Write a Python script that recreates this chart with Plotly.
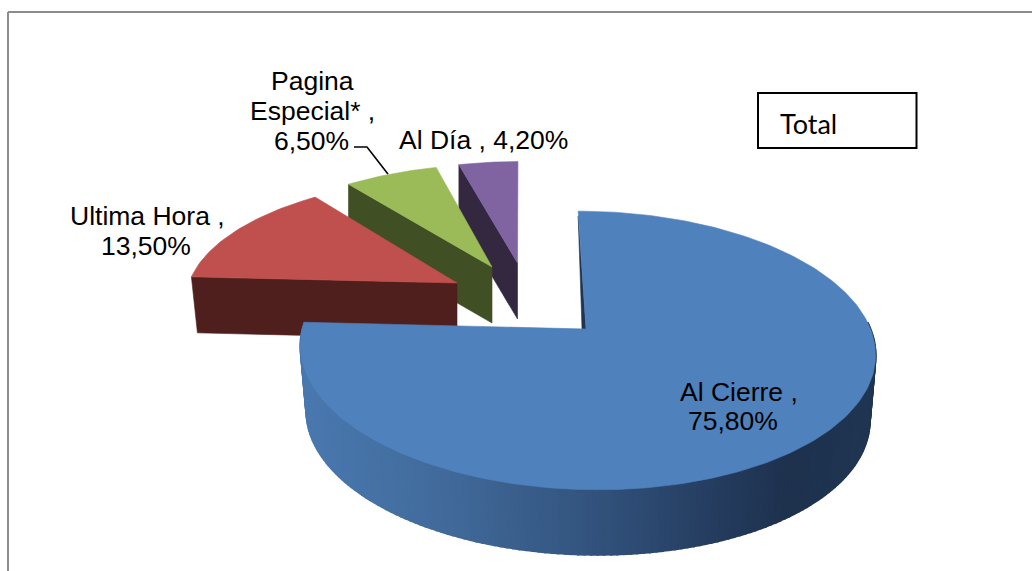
import math
import plotly.graph_objects as go

categories = ["Al Cierre", "Ultima Hora", "Pagina Especial*", "Al Día"]
values = [75.8, 13.5, 6.5, 4.2]
legend_title = "Total"

W, H = 1032, 571
top_colors = ["#4F81BD", "#C0504D", "#9BBB59", "#8064A2"]
wall_colors = [None, "#4F1F1E", "#414F24", "#33283F"]
# projection of each exploded slice: apex, radii, perspective, rim shifts, depth
proj = [
    dict(ax=586, ay=329, a=284, b=136, k=0.154, sh=0.5, e=-9.5, d=65, lean=6),
    dict(ax=457, ay=283, a=289, b=123, k=0.154, sh=21, e=0, d=56, lean=6),
    dict(ax=492, ay=267, a=267, b=118.5, k=0.154, sh=5.5, e=0, d=56, lean=0),
    dict(ax=517.5, ay=263, a=260, b=117, k=0.154, sh=0.5, e=0, d=56, lean=0),
]
grad_stops = [(300, (0x4A, 0x79, 0xB0)), (450, (0x41, 0x6A, 0x9A)), (600, (0x32, 0x52, 0x7C)),
              (720, (0x25, 0x3C, 0x5E)), (790, (0x1E, 0x32, 0x4E)), (875, (0x20, 0x36, 0x52))]
label_lines = [
    (["Al Cierre ,", "{v}"], [(739, 392), (733, 421)]),
    (["Ultima Hora ,", "{v}"], [(147, 216), (146, 246)]),
    (["Pagina", "Especial* ,", "{v}"], [(312, 81), (312, 111), (311, 141)]),
    (["Al Día , {v}"], [(483, 140)]),
]


def rim(t, p):
    X, Y = math.sin(t), math.cos(t)
    w = 1 + p["k"] * Y
    return p["ax"] + (p["a"] * X + p["sh"] + p["e"] * Y) / w, p["ay"] - p["b"] * Y / w


def low(pt, t, p):
    return pt[0] - p["lean"] * math.sin(t), pt[1] + p["d"]


def grad(x):
    for (x0, c0), (x1, c1) in zip(grad_stops, grad_stops[1:]):
        if x <= x1:
            f = max(0, (x - x0) / (x1 - x0))
            return "rgb(%d,%d,%d)" % tuple(c0[i] + f * (c1[i] - c0[i]) for i in range(3))
    return "rgb(%d,%d,%d)" % grad_stops[-1][1]


fig = go.Figure()


def poly(pts, color, lw=0.6):
    xs = [q[0] for q in pts] + [pts[0][0]]
    ys = [q[1] for q in pts] + [pts[0][1]]
    fig.add_trace(go.Scatter(x=xs, y=ys, mode="lines", fill="toself", fillcolor=color,
                             line=dict(color=color, width=lw), hoverinfo="skip", showlegend=False))


total = sum(values)
angles = [0]
for v in values:
    angles.append(angles[-1] + v / total * 2 * math.pi)

# back to front
for i in [3, 2, 1, 0]:
    p = proj[i]
    t0, t1 = angles[i], angles[i + 1]
    n = max(6, int((t1 - t0) / 0.02))
    ts = [t0 + (t1 - t0) * j / n for j in range(n + 1)]
    ap = (p["ax"], p["ay"])
    if i == 0:
        for j in range(n):
            ta, tb = ts[j], ts[j + 1]
            if ta < math.pi / 2 - 0.05:
                continue
            A, B = rim(ta, p), rim(tb, p)
            poly([A, B, low(B, tb, p), low(A, ta, p)], grad((A[0] + B[0]) / 2), 2)
        first = rim(t0, p)
        poly([(first[0], first[1] + 5), (p["ax"] - 4, p["ay"]), ap], "#1F3552")
    else:
        # wall on the clockwise-start edge
        E = rim(t0, p)
        poly([ap, E, low(E, t0, p), low(ap, 0, p)], wall_colors[i])
    poly([ap] + [rim(t, p) for t in ts], top_colors[i])

# leader line for the Pagina Especial* label
mid = rim((angles[2] + angles[3]) / 2, proj[2])
fig.add_trace(go.Scatter(x=[354, 367, mid[0] - 3], y=[147, 147, mid[1]], mode="lines",
                         line=dict(color="#000000", width=1.6), hoverinfo="skip", showlegend=False))

annots = []
for v, (lines, spots) in zip(values, label_lines):
    vs = f"{v:.2f}%".replace(".", ",")
    for ln, (x, y) in zip(lines, spots):
        annots.append(dict(x=x, y=y, xref="x", yref="y", text=ln.format(v=vs), showarrow=False,
                           xanchor="center", yanchor="middle",
                           font=dict(family="Liberation Sans", size=26.5, color="#000000")))
annots.append(dict(x=778, y=123, xref="x", yref="y", text=legend_title, showarrow=False,
                   xanchor="left", yanchor="middle",
                   font=dict(family="Lato", size=27, color="#000000")))

frame = "#8C8C8C"
shapes = [
    dict(type="line", x0=8, y0=12, x1=W, y1=12, line=dict(color=frame, width=2), layer="below"),
    dict(type="line", x0=8, y0=12, x1=8, y1=H, line=dict(color=frame, width=2), layer="below"),
    dict(type="rect", x0=758, y0=93, x1=916.5, y1=148, line=dict(color="#000000", width=2), fillcolor="#FFFFFF", layer="below"),
]

fig.update_layout(
    width=W, height=H, margin=dict(l=0, r=0, t=0, b=0), autosize=False,
    paper_bgcolor="#FFFFFF", plot_bgcolor="#FFFFFF", showlegend=False,
    xaxis=dict(range=[0, W], visible=False, fixedrange=True),
    yaxis=dict(range=[H, 0], visible=False, fixedrange=True),
    annotations=annots, shapes=shapes,
)
fig.write_html("out.html", config={"displayModeBar": False},
               post_script="document.body.style.margin='0';document.documentElement.style.overflow='hidden';")
